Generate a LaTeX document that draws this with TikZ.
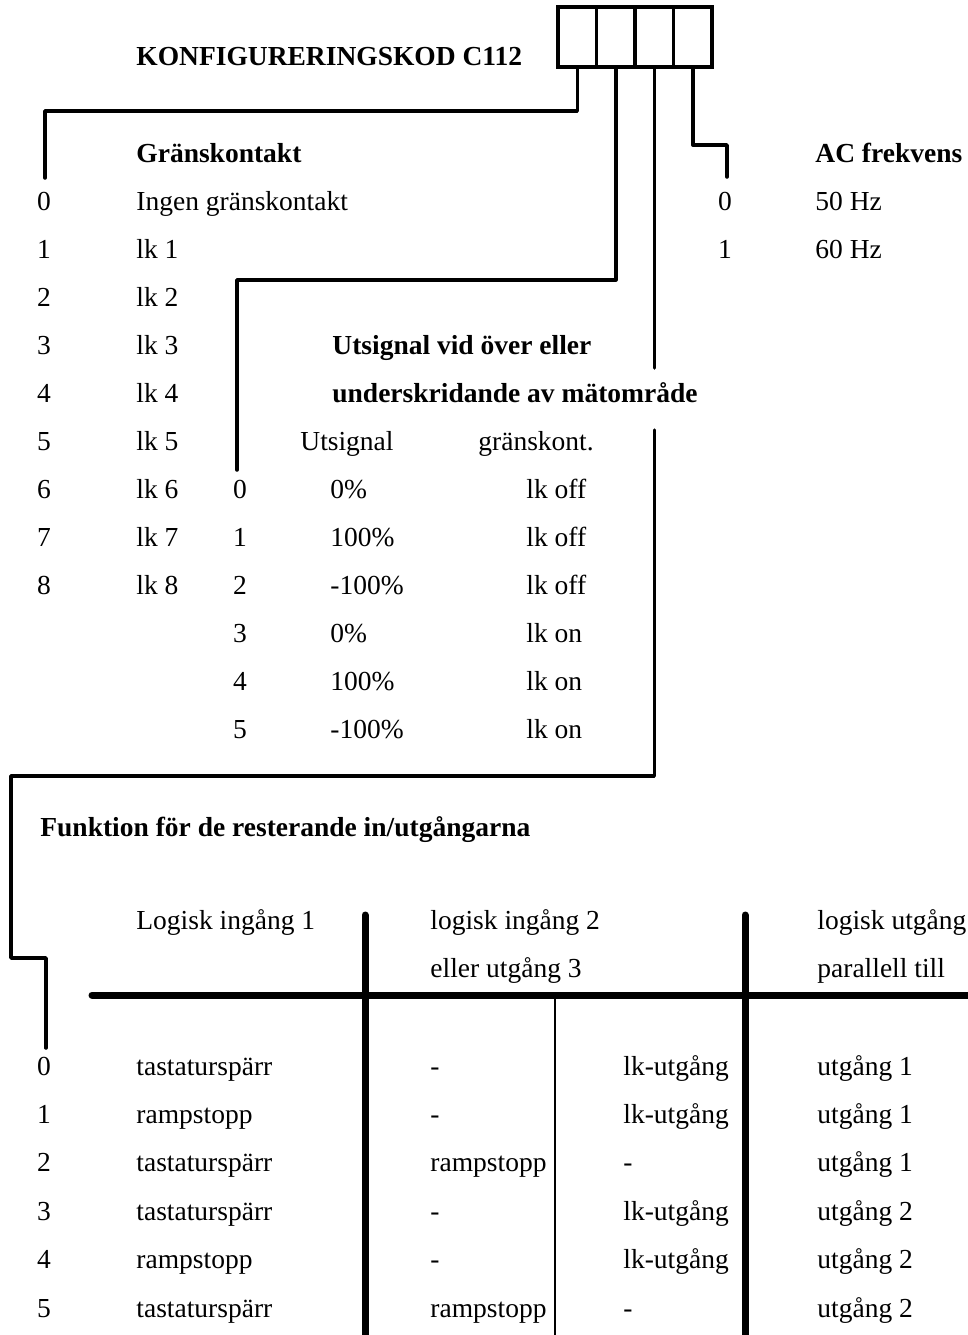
\documentclass[tikz,border=0pt]{standalone}
\usepackage{fontspec}
\setmainfont{Liberation Serif}
\usepackage{tikz}
\usetikzlibrary{positioning}

\begin{document}
\begin{tikzpicture}[
  x=0.5pt, y=-0.5pt,
  txt/.style={anchor=base west, inner sep=0pt, font=\fontsize{13.75}{16}\selectfont},
  hd/.style={txt, font=\fontsize{13.75}{16}\selectfont\bfseries},
  num/.style={txt, anchor=base},
  cell/.style={draw, line width=1.75pt, minimum width=19.25pt, minimum height=30pt,
               inner sep=0pt, outer sep=0pt},
  wire/.style={line width=1.75pt, line join=round, line cap=round},
  rulethick/.style={line width=3.5pt, line cap=round},
  rulethin/.style={line width=1.1pt},
]
\useasboundingbox (0,0) rectangle (968,1335);

\node[hd] (title) at (136,65) {KONFIGURERINGSKOD C112};
\node[cell] (c1) at (577.25,37) {};
\node[cell, right=0pt of c1] (c2) {};
\node[cell, right=0pt of c2] (c3) {};
\node[cell, right=0pt of c3] (c4) {};

% first digit
\node[hd] (gk) at (136,162) {Gränskontakt};
\node[num] (g0) at (44,210) {0};
\node[txt] (gt0) at (136,210) {Ingen gränskontakt};
\foreach \i in {1,...,8} {
  \node[num] (g\i) at (44,{210+48*\i}) {\i};
  \node[txt] (gt\i) at (136,{210+48*\i}) {lk \i};
}

% fourth digit
\node[hd] (ac) at (815,162) {AC frekvens};
\node[num] (a0) at (725,210) {0};
\node[txt] (at0) at (815,210) {50 Hz};
\node[num] (a1) at (725,258) {1};
\node[txt] (at1) at (815,258) {60 Hz};

% second digit
\node[hd] (us1) at (332,354) {Utsignal vid över eller};
\node[hd] (us2) at (332,402) {underskridande av mätområde};
\node[txt] (uh1) at (300,450) {Utsignal};
\node[txt] (uh2) at (478,450) {gränskont.};
\foreach \v/\l [count=\i from 0] in {0\%/off, 100\%/off, -100\%/off, 0\%/on, 100\%/on, -100\%/on} {
  \node[num] (u\i) at (240,{498+48*\i}) {\i};
  \node[txt] (uv\i) at (330,{498+48*\i}) {\v};
  \node[txt] (ul\i) at (526,{498+48*\i}) {lk \l};
}

% third digit
\node[hd] (fn) at (40,836) {Funktion för de resterande in/utgångarna};
\node[txt] (h1) at (136,929) {Logisk ingång 1};
\node[txt] (h2) at (430,929) {logisk ingång 2};
\node[txt] (h2b) at (430,977) {eller utgång 3};
\node[txt] (h4) at (817,929) {logisk utgång};
\node[txt] (h4b) at (817,977) {parallell till};
\foreach \a/\b/\c/\d [count=\i from 0] in {
    tastaturspärr/-/lk-utgång/utgång 1, rampstopp/-/lk-utgång/utgång 1,
    tastaturspärr/rampstopp/-/utgång 1, tastaturspärr/-/lk-utgång/utgång 2,
    rampstopp/-/lk-utgång/utgång 2, tastaturspärr/rampstopp/-/utgång 2} {
  \node[num] (f\i) at (44,{1075+48.4*\i}) {\i};
  \node[txt] (fa\i) at (136,{1075+48.4*\i}) {\a};
  \node[txt] (fb\i) at (430,{1075+48.4*\i}) {\b};
  \node[txt] (fc\i) at (623,{1075+48.4*\i}) {\c};
  \node[txt] (fd\i) at (817,{1075+48.4*\i}) {\d};
}
\draw[rulethick] (92,995) -- (975,995);
\draw[rulethick] (365,915) -- (365,1345);
\draw[rulethick] (745,915) -- (745,1345);
\draw[rulethin] (555,995) -- (555,1345);

% connectors
\coordinate (e1) at (45,178);
\coordinate (e2) at (237,470);
\coordinate (br1) at (654.25,368);
\coordinate (br2) at (654.25,430);
\coordinate (e3) at (46,1048);
\coordinate (e4) at (727,177);
\draw[wire] (c1.south) |- (45,111) -- (e1);
\draw[wire] (c2.south) |- (237,280) -- (e2);
\draw[wire] (c3.south) -- (br1);
\draw[wire] (br2) |- (11,776) |- (46,958) -- (e3);
\draw[wire] (c4.south) |- (727,145) -- (e4);
\end{tikzpicture}
\end{document}
